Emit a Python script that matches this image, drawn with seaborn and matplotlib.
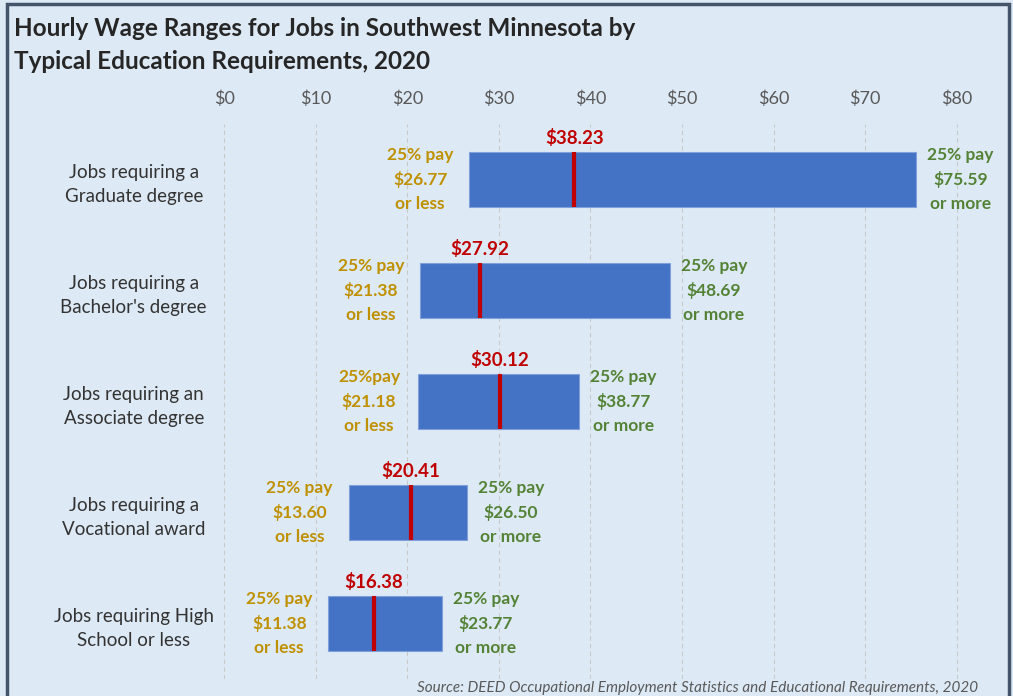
import pandas as pd
import seaborn as sns
import matplotlib.pyplot as plt
from matplotlib.patches import Rectangle

# Wage data (25th percentile, median, 75th percentile)
categories = ['Jobs requiring a\nGraduate degree',
              "Jobs requiring a\nBachelor's degree",
              'Jobs requiring an\nAssociate degree',
              'Jobs requiring a\nVocational award',
              'Jobs requiring High\nSchool or less']
low = [26.77, 21.38, 21.18, 13.60, 11.38]
median = [38.23, 27.92, 30.12, 20.41, 16.38]
high = [75.59, 48.69, 38.77, 26.50, 23.77]
low_prefix = ['25% pay', '25% pay', '25%pay', '25% pay', '25% pay']
tick_values = [0, 10, 20, 30, 40, 50, 60, 70, 80]

df = pd.DataFrame({'Category': categories, 'Low': low, 'Median': median, 'High': high})
df['Range'] = df['High'] - df['Low']

bg = '#DDEAF6'
bar_color = '#4472C4'
red = '#C00000'
gold = '#BF9000'
green = '#548235'
gray = '#595959'

sns.set_style('white')
plt.rcParams['font.family'] = ['Lato', 'DejaVu Sans']

fig = plt.figure(figsize=(10.13, 6.96), dpi=100, facecolor=bg)
ax = fig.add_axes([224 / 1013, 17 / 696, 0.7686, 555 / 696])
ax.set_facecolor(bg)

# Range bars: seaborn draws the width, then each bar is moved to start at its 25th percentile
sns.barplot(ax=ax, data=df, y='Category', x='Range', color=bar_color, width=0.5,
            saturation=1, edgecolor='#7FA0D8', linewidth=0.8, zorder=2)
for bar, lo in zip(ax.patches, df['Low']):
    bar.set_x(lo)

ax.set_xlim(0, 85)
ax.set_ylim(4.5, -0.5)

# Median markers and labels
for i, row in df.iterrows():
    ax.vlines(row['Median'], i - 0.25, i + 0.25, color=red, linewidth=3, zorder=3)
    ax.annotate(f"${row['Median']:.2f}", (row['Median'], i - 0.25), xytext=(0, 5),
                textcoords='offset pixels', ha='center', va='bottom',
                color=red, fontsize=13.5, fontweight='bold')
    ax.annotate(f"{low_prefix[i]}\n${row['Low']:.2f}\nor less", (row['Low'], i),
                xytext=(-49, 0), textcoords='offset pixels', ha='center', va='center',
                multialignment='center', color=gold, fontsize=12.5, fontweight='bold',
                linespacing=1.6)
    ax.annotate(f"25% pay\n${row['High']:.2f}\nor more", (row['High'], i),
                xytext=(44, 0), textcoords='offset pixels', ha='center', va='center',
                multialignment='center', color=green, fontsize=12.5, fontweight='bold',
                linespacing=1.6)

# Axes styling
ax.xaxis.tick_top()
ax.set_xticks(tick_values)
ax.set_xticklabels([f'${v}' for v in tick_values], color=gray, fontsize=13)
ax.tick_params(axis='x', length=0, pad=12)
ax.tick_params(axis='y', length=0, pad=65)
for lab in ax.get_yticklabels():
    lab.set_ha('center')
    lab.set_multialignment('center')
    lab.set_fontsize(13.5)
    lab.set_color('#333333')
    lab.set_linespacing(1.5)
ax.set_xlabel('')
ax.set_ylabel('')
ax.grid(axis='x', color='#C9C9C9', linestyle=(0, (4, 3)), linewidth=0.8, zorder=0)
ax.set_axisbelow(True)
for s in ax.spines.values():
    s.set_visible(False)

# Title, source and frame
fig.text(14 / 1013, 1 - 17 / 696,
         'Hourly Wage Ranges for Jobs in Southwest Minnesota by\nTypical Education Requirements, 2020',
         ha='left', va='top', fontsize=17.5, fontweight='bold', color='#262626', linespacing=1.55)
fig.text(978 / 1013, 1 - 688 / 696,
         'Source: DEED Occupational Employment Statistics and Educational Requirements, 2020',
         ha='right', va='center', fontsize=11, style='italic', color=gray)
fig.patches.append(Rectangle((7 / 1013, -0.05), 1002 / 1013, 1.05 - 4 / 696,
                             transform=fig.transFigure, fill=False,
                             edgecolor='#44546A', linewidth=2.5))

plt.savefig('out.png', dpi=100, facecolor=bg)
